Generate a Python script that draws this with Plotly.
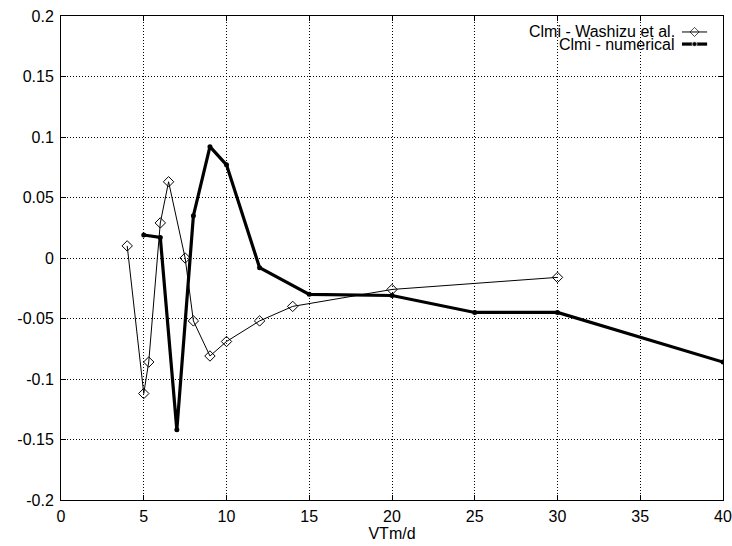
import plotly.graph_objects as go

# Clmi - Washizu et al. (experimental)
washizu_x = [4, 5, 5.3, 6, 6.5, 7.5, 8, 9, 10, 12, 14, 20, 30]
washizu_y = [0.010, -0.112, -0.086, 0.029, 0.063, 0.0, -0.052, -0.081, -0.069, -0.052, -0.040, -0.026, -0.016]

# Clmi - numerical
numerical_x = [5, 6, 7, 8, 9, 10, 12, 15, 20, 25, 30, 40]
numerical_y = [0.019, 0.017, -0.142, 0.035, 0.092, 0.077, -0.008, -0.030, -0.031, -0.045, -0.045, -0.086]

x_ticks = [0, 5, 10, 15, 20, 25, 30, 35, 40]
y_ticks = [-0.2, -0.15, -0.1, -0.05, 0, 0.05, 0.1, 0.15, 0.2]
y_tick_labels = ["-0.2", "-0.15", "-0.1", "-0.05", "0", "0.05", "0.1", "0.15", "0.2"]

legend_names = ["Clmi - Washizu et al.", "Clmi - numerical"]

FONT = dict(family="Liberation Sans, Arial, sans-serif", size=16, color="black")

fig = go.Figure()

fig.add_trace(go.Scatter(
    x=washizu_x, y=washizu_y, mode="lines+markers",
    line=dict(color="black", width=1),
    marker=dict(symbol="diamond-open", size=8, color="black", line=dict(width=1)),
    showlegend=False,
))
fig.add_trace(go.Scatter(
    x=numerical_x, y=numerical_y, mode="lines+markers",
    line=dict(color="black", width=3.2),
    marker=dict(symbol="circle", size=5, color="black"),
    showlegend=False,
))

# gnuplot-style key: text right-aligned, sample on the right
key_rows = [0.967, 0.942]
key_styles = [
    dict(line=dict(color="black", width=1),
         marker=dict(symbol="diamond-open", size=7, color="black", line=dict(width=1))),
    dict(line=dict(color="black", width=3.2),
         marker=dict(symbol="circle", size=5, color="black")),
]
for name, ky, st in zip(legend_names, key_rows, key_styles):
    fig.add_annotation(x=0.931, y=ky, xref="paper", yref="paper", text=name,
                       showarrow=False, xanchor="right", yanchor="middle", font=FONT)
    fig.add_trace(go.Scatter(
        x=[0.938, 0.957, 0.976], y=[ky, ky, ky], xaxis="x2", yaxis="y2",
        mode="lines+markers", showlegend=False,
        line=st["line"], marker=dict(st["marker"], size=[0, st["marker"]["size"], 0]),
        hoverinfo="skip",
    ))

axis_common = dict(
    showline=True, linecolor="black", linewidth=1, mirror="ticks",
    ticks="inside", ticklen=5, tickcolor="black",
    showgrid=True, gridcolor="black", griddash="1px,2px", gridwidth=1,
    zeroline=False, tickfont=FONT, automargin=False,
)

fig.update_layout(
    width=732, height=546,
    margin=dict(l=61, r=9, t=16, b=46),
    paper_bgcolor="white", plot_bgcolor="white",
    font=FONT,
    xaxis=dict(axis_common, range=[0, 40], tickvals=x_ticks, ticklabelstandoff=2,
               title=dict(text="VTm/d", font=FONT, standoff=0)),
    yaxis=dict(axis_common, range=[-0.2, 0.2], tickvals=y_ticks, ticktext=y_tick_labels,
               ticklabelstandoff=3),
    xaxis2=dict(overlaying="x", range=[0, 1], visible=False),
    yaxis2=dict(overlaying="y", range=[0, 1], visible=False),
)

fig.write_html("out.html", config={"displayModeBar": False},
               post_script="document.body.style.margin='0';document.body.style.overflow='hidden';")
